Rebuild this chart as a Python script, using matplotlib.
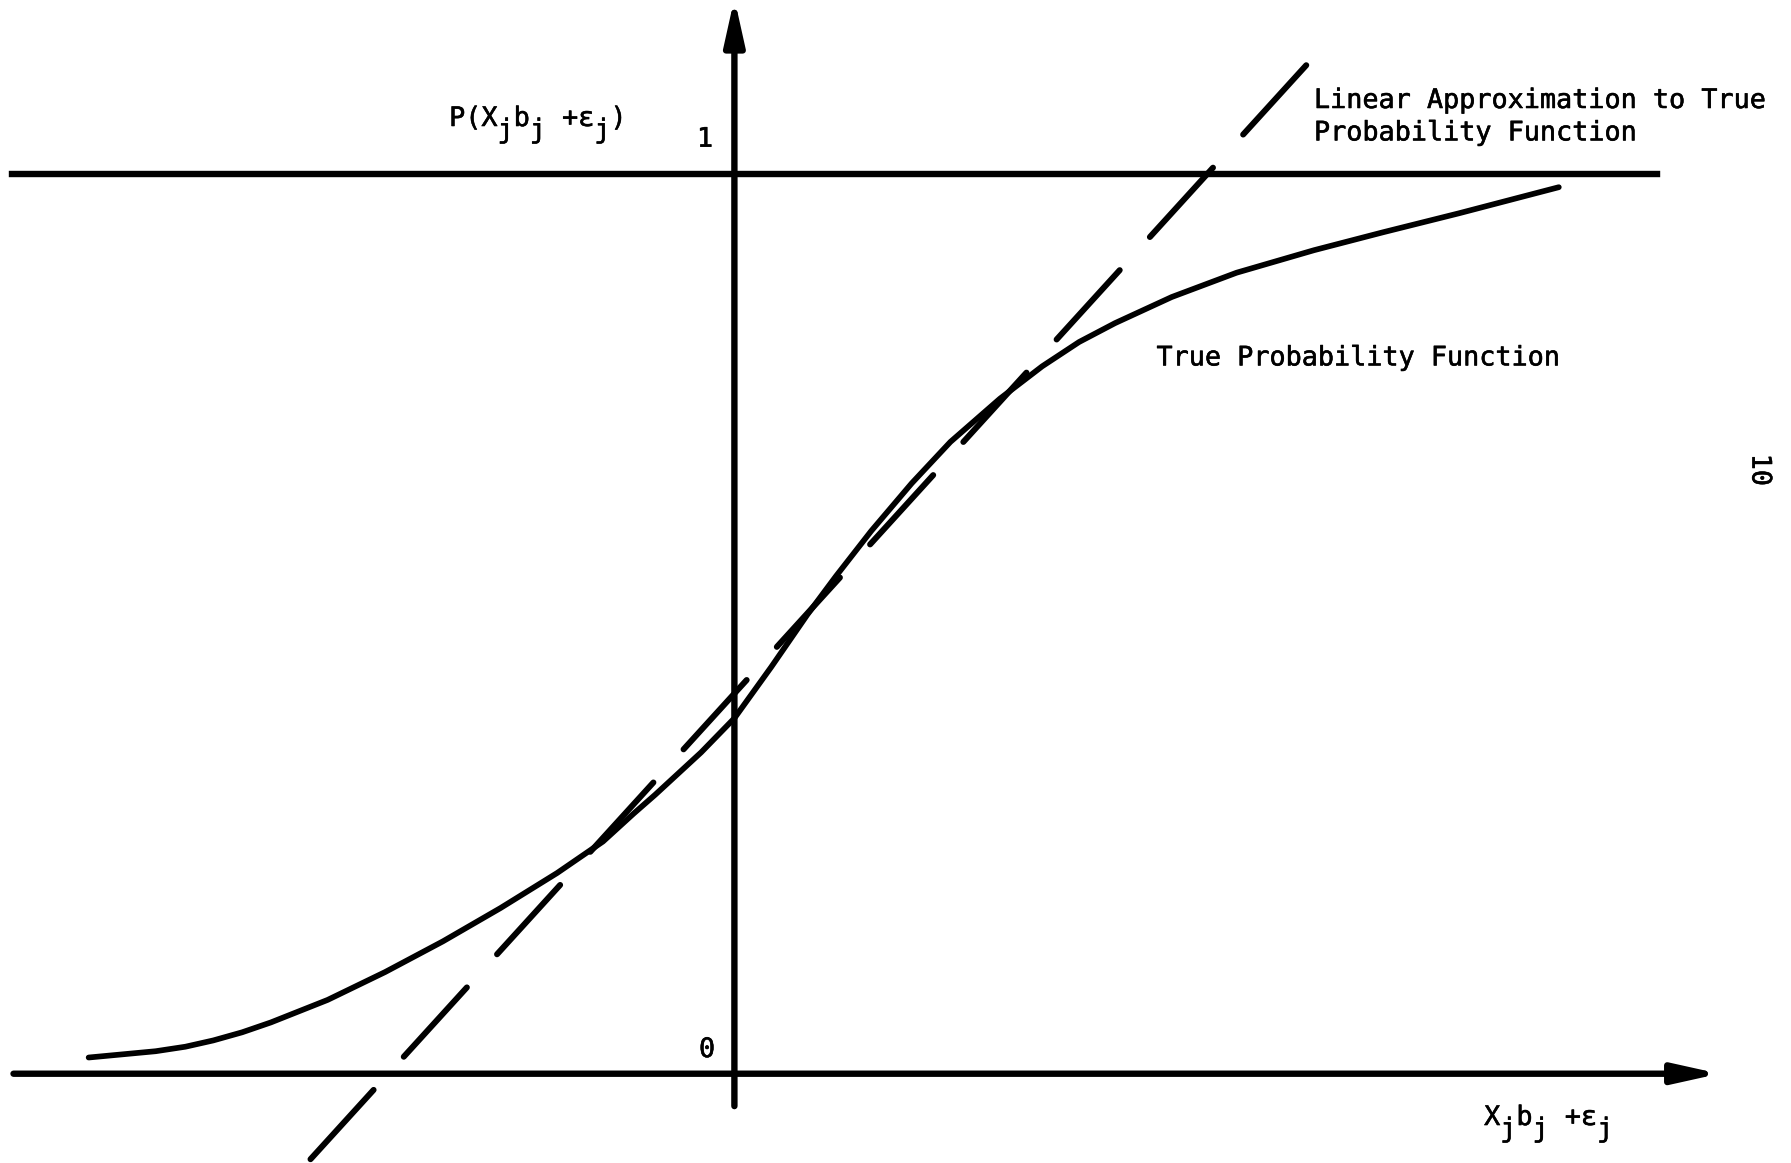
import matplotlib
matplotlib.use("Agg")
import matplotlib.pyplot as plt
import matplotlib.patheffects as pe

plt.rcParams['font.family'] = ['DejaVu Sans Mono', 'DejaVu Sans']

# true probability function, x in index units, y = probability
curve_x = [-0.7175, -0.643, -0.610, -0.579, -0.547, -0.515, -0.452, -0.388, -0.324,
           -0.260, -0.197, -0.146, -0.112, -0.088, -0.037, 0.000, 0.041, 0.081, 0.113,
           0.152, 0.197, 0.240, 0.295, 0.342, 0.383, 0.423, 0.486, 0.558, 0.644, 0.721,
           0.805, 0.870, 0.916]
curve_y = [0.018, 0.025, 0.030, 0.037, 0.046, 0.057, 0.082, 0.113, 0.147,
           0.184, 0.223, 0.258, 0.289, 0.310, 0.357, 0.395, 0.452, 0.510, 0.553,
           0.603, 0.656, 0.702, 0.750, 0.786, 0.813, 0.834, 0.863, 0.890, 0.915, 0.935,
           0.956, 0.973, 0.985]

# linear approximation (dashed), end points
approx_x = [-0.471, 0.644]
approx_y = [-0.095, 1.130]

# axes and the P = 1 line
xaxis_x = [-0.801, 1.0945]
yaxis_y = [-0.036, 1.195]
one_x = [-0.803, 1.025]

ylabel_parts = [("P(X", False), ("j", True), ("b", False), ("j", True), (" ", False),
                ("+ε", False), ("j", True), (")", False)]
xlabel_parts = [("X", False), ("j", True), ("b", False), ("j", True), (" ", False),
                ("+ε", False), ("j", True)]
approx_label = ["Linear Approximation to True", "Probability Function"]
curve_label = "True Probability Function"
page_no = "10"

fig = plt.figure(figsize=(17.91, 11.63), dpi=100)
ax = fig.add_axes([0, 0, 1, 1])
ax.set_xlim(-0.816, 1.174)
ax.set_ylim(-0.0992, 1.193)
ax.axis('off')

fs = 19.3
ink = [pe.withStroke(linewidth=0.4, foreground='k')]
pitch = 0.602 * fs * 100 / 72 / 900   # one typewriter character in data units
drop = 0.0133                          # half-line drop for subscripts


def typed(x0, y0, parts):
    col = 0
    for s, low in parts:
        if s.strip():
            xc = x0 + (col + len(s) / 2) * pitch
            ax.text(xc, y0 - (drop if low else 0), s, fontsize=fs,
                    ha='center', va='baseline', path_effects=ink)
        col += len(s)


ax.plot(one_x, [1, 1], color='k', lw=4.6)
for tip, tail in [((xaxis_x[1], 0), (xaxis_x[0], 0)),
                  ((0, yaxis_y[1]), (0, yaxis_y[0]))]:
    ax.annotate('', xy=tip, xytext=tail, annotation_clip=False,
                arrowprops=dict(arrowstyle='-|>,head_length=2.7,head_width=0.6',
                                mutation_scale=10, lw=4.6, color='k',
                                shrinkA=0, shrinkB=0))

ax.plot(curve_x, curve_y, color='k', lw=4.1, solid_capstyle='round',
        solid_joinstyle='round')
ax.plot(approx_x, approx_y, color='k', lw=4.3, dashes=(15.7, 7.5),
        dash_capstyle='round')

typed(-0.317, 1.053, ylabel_parts)
typed(0.833, -0.057, xlabel_parts)

ax.text(-0.0327, 1.030, "1", fontsize=fs, ha='center', va='baseline', path_effects=ink)
ax.text(-0.0304, 0.0185, "0", fontsize=fs, ha='center', va='baseline', path_effects=ink)

ax.text(0.644, 1.073, approx_label[0], fontsize=fs, ha='left', va='baseline',
        path_effects=ink)
ax.text(0.644, 1.037, approx_label[1], fontsize=fs, ha='left', va='baseline',
        path_effects=ink)
ax.text(0.469, 0.787, curve_label, fontsize=fs, ha='left', va='baseline',
        path_effects=ink)
ax.text(1.139, 0.671, page_no, fontsize=fs, rotation=-90, ha='center', va='center',
        path_effects=ink)

fig.savefig("out.png", dpi=100, facecolor='white')
